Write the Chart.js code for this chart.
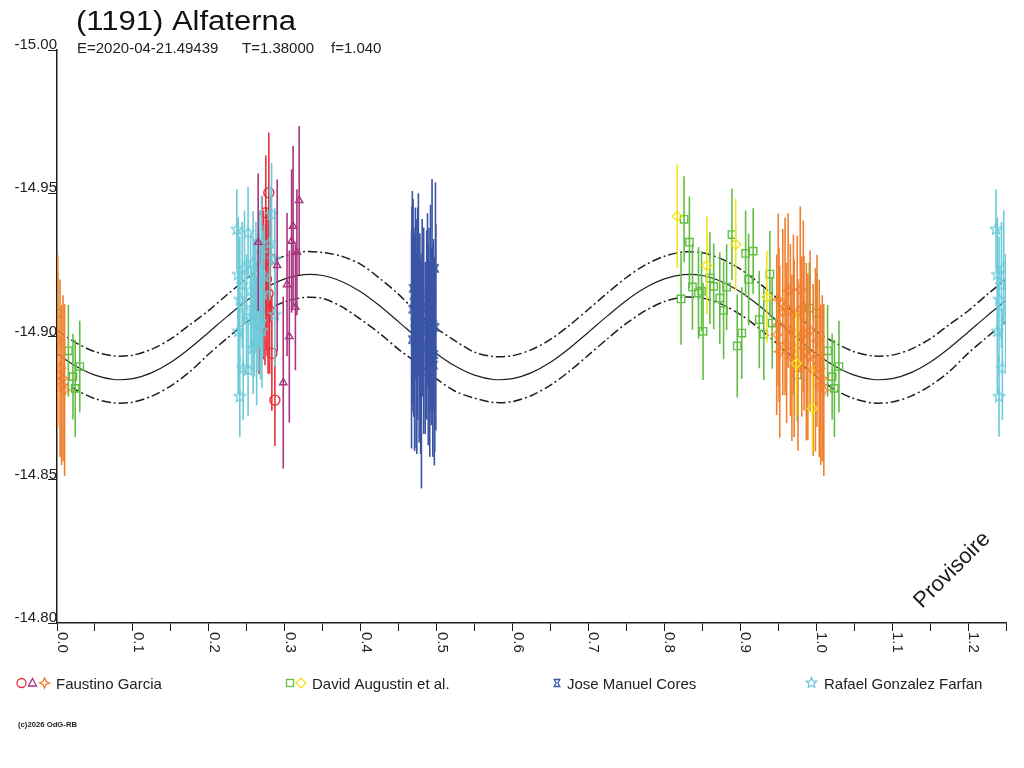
<!DOCTYPE html>
<html><head><meta charset="utf-8">
<script src="https://cdn.jsdelivr.net/npm/chart.js@4.4.1/dist/chart.umd.min.js"></script>
<style>html,body{margin:0;padding:0;background:#fff;}canvas{display:block;}</style>
</head><body>
<canvas id="c" width="1024" height="768" style="width:1024px;height:768px"></canvas>
<script>
// ---------------- DATA ----------------
const titleText = '(1191) Alfaterna';
const epochText = 'E=2020-04-21.49439';
const periodText = 'T=1.38000';
const freqText = 'f=1.040';
const watermarkText = 'Provisoire';
const copyrightText = '(c)2026 OdG-RB';
const observers = ['Faustino Garcia', 'David Augustin et al.', 'Jose Manuel Cores', 'Rafael Gonzalez Farfan'];

const xTickValues = [0.0,0.1,0.2,0.3,0.4,0.5,0.6,0.7,0.8,0.9,1.0,1.1,1.2];
const xTickLabels = ['0.0','0.1','0.2','0.3','0.4','0.5','0.6','0.7','0.8','0.9','1.0','1.1','1.2'];
const yTickValues = [-15.00,-14.95,-14.90,-14.85,-14.80];
const yTickLabels = ['-15.00','-14.95','-14.90','-14.85','-14.80'];

// Fourier fit and its uncertainty band
const fitPhase = [0.000,0.025,0.050,0.075,0.100,0.125,0.150,0.175,0.200,0.225,0.250,0.275,0.300,0.325,0.350,0.375,0.400,0.425,0.450,0.475,0.500,0.525,0.550,0.575,0.600,0.625,0.650,0.675,0.700,0.725,0.750,0.775,0.800,0.825,0.850,0.875,0.900,0.925,0.950,0.975,1.000,1.025,1.050,1.075,1.100,1.125,1.150,1.175,1.200,1.225,1.250];
const fitMag = [-14.8940,-14.8896,-14.8865,-14.8850,-14.8853,-14.8874,-14.8910,-14.8959,-14.9015,-14.9072,-14.9126,-14.9170,-14.9201,-14.9216,-14.9213,-14.9192,-14.9156,-14.9107,-14.9051,-14.8994,-14.8940,-14.8896,-14.8865,-14.8850,-14.8853,-14.8874,-14.8910,-14.8959,-14.9015,-14.9072,-14.9126,-14.9170,-14.9201,-14.9216,-14.9213,-14.9192,-14.9156,-14.9107,-14.9051,-14.8994,-14.8940,-14.8896,-14.8865,-14.8850,-14.8853,-14.8874,-14.8910,-14.8959,-14.9015,-14.9072,-14.9126];
const fitUpper = [-14.9022,-14.8978,-14.8947,-14.8932,-14.8935,-14.8956,-14.8992,-14.9041,-14.9091,-14.9148,-14.9202,-14.9250,-14.9281,-14.9296,-14.9293,-14.9280,-14.9252,-14.9203,-14.9147,-14.9082,-14.9028,-14.8984,-14.8945,-14.8930,-14.8933,-14.8954,-14.8990,-14.9039,-14.9095,-14.9152,-14.9206,-14.9250,-14.9280,-14.9295,-14.9292,-14.9271,-14.9235,-14.9186,-14.9130,-14.9073,-14.9019,-14.8978,-14.8947,-14.8932,-14.8935,-14.8956,-14.8992,-14.9041,-14.9089,-14.9146,-14.9200];
const fitLower = [-14.8858,-14.8814,-14.8783,-14.8768,-14.8771,-14.8792,-14.8828,-14.8877,-14.8939,-14.8996,-14.9050,-14.9090,-14.9121,-14.9136,-14.9133,-14.9104,-14.9060,-14.9011,-14.8955,-14.8906,-14.8852,-14.8808,-14.8785,-14.8770,-14.8773,-14.8794,-14.8830,-14.8879,-14.8935,-14.8992,-14.9046,-14.9090,-14.9122,-14.9137,-14.9134,-14.9113,-14.9077,-14.9028,-14.8972,-14.8915,-14.8861,-14.8814,-14.8783,-14.8768,-14.8771,-14.8792,-14.8828,-14.8877,-14.8941,-14.8998,-14.9052];

// Faustino Garcia - session 1 (circles)
const fgCirPhase = [0.2790,0.2750,0.2830,0.2870,0.2700,0.2720,0.2740,0.2760,0.2780,0.2800,0.2680,0.2810,0.2660];
const fgCirMag   = [-14.9502,-14.9432,-14.8941,-14.8778,-14.9250,-14.9180,-14.9120,-14.9200,-14.9150,-14.9090,-14.9120,-14.9270,-14.9050];
const fgCirErr   = [0.021,0.020,0.020,0.016,0.024,0.026,0.022,0.025,0.028,0.022,0.020,0.022,0.018];
// Faustino Garcia - session 2 (triangles)
const fgTriPhase = [0.3190,0.3110,0.3090,0.3160,0.2900,0.3030,0.3140,0.3060,0.2980,0.2650];
const fgTriMag   = [-14.9475,-14.9385,-14.9333,-14.9294,-14.9248,-14.9181,-14.9102,-14.9000,-14.8839,-14.9329];
const fgTriErr   = [0.026,0.028,0.025,0.022,0.030,0.025,0.022,0.030,0.030,0.024];
// Faustino Garcia - session 3 (4-point stars)
const fgStarPhase = [0.948,0.950,0.951,0.952,0.956,0.959,0.961,0.963,0.966,0.968,0.970,0.971,0.975,0.976,0.979,0.981,0.983,0.984,0.987,0.989,0.992,0.996,0.999,0.001,0.004,0.006,0.008,0.010];
const fgStarMag   = [-14.9006,-14.9129,-14.9041,-14.8947,-14.9085,-14.9105,-14.8977,-14.9160,-14.9023,-14.8925,-14.9076,-14.8959,-14.9082,-14.8901,-14.9164,-14.9000,-14.9105,-14.9012,-14.8947,-14.8930,-14.9020,-14.8883,-14.8919,-14.8985,-14.8889,-14.8831,-14.8854,-14.8813];
const fgStarErr   = [0.028,0.030,0.027,0.030,0.029,0.031,0.028,0.027,0.030,0.029,0.028,0.031,0.027,0.030,0.029,0.028,0.030,0.027,0.031,0.029,0.028,0.030,0.032,0.030,0.031,0.028,0.029,0.030];
// David Augustin et al. - session 1 (squares)
const daSqPhase = [0.822,0.826,0.833,0.837,0.845,0.849,0.851,0.860,0.865,0.873,0.878,0.882,0.889,0.896,0.902,0.907,0.911,0.917,0.925,0.931,0.939,0.942,0.975,0.991,0.001,0.015,0.021,0.024,0.030];
const daSqMag   = [-14.9131,-14.9409,-14.9329,-14.9173,-14.9152,-14.9158,-14.9018,-14.9204,-14.9175,-14.9134,-14.9091,-14.9172,-14.9356,-14.8967,-14.9012,-14.9290,-14.9199,-14.9298,-14.9059,-14.9008,-14.9218,-14.9047,-14.8866,-14.9099,-14.9082,-14.8950,-14.8860,-14.8819,-14.8895];
const daSqErr   = [0.016,0.015,0.016,0.015,0.016,0.014,0.017,0.016,0.015,0.016,0.017,0.015,0.016,0.018,0.016,0.015,0.016,0.015,0.017,0.016,0.015,0.016,0.016,0.016,0.014,0.016,0.015,0.017,0.016];
// David Augustin et al. - session 2 (diamonds)
const daDiaPhase = [0.817,0.856,0.894,0.935,0.974,0.995];
const daDiaMag   = [-14.9420,-14.9248,-14.9321,-14.9138,-14.8906,-14.8749];
const daDiaErr   = [0.018,0.017,0.016,0.016,0.018,0.015];
// Jose Manuel Cores
const jmcPhase = [0.4680,0.4675,0.4670,0.4985,0.4990,0.4975,0.4690,0.4700,0.4710,0.4720,0.4730,0.4740,0.4750,0.4760,0.4770,0.4780,0.4790,0.4800,0.4810,0.4830,0.4850,0.4870,0.4880,0.4890,0.4900,0.4910,0.4920,0.4930,0.4940,0.4950,0.4960,0.4970];
const jmcMag   = [-14.9168,-14.9095,-14.8989,-14.9238,-14.9032,-14.8937,-14.9120,-14.9050,-14.8980,-14.9150,-14.9010,-14.8940,-14.9080,-14.9180,-14.8990,-14.9060,-14.8930,-14.8880,-14.9100,-14.9020,-14.8960,-14.9040,-14.9130,-14.8970,-14.9060,-14.8920,-14.9100,-14.9000,-14.9150,-14.8950,-14.9040,-14.8900];
const jmcErr   = [0.034,0.036,0.038,0.030,0.036,0.034,0.036,0.033,0.038,0.030,0.040,0.035,0.037,0.032,0.036,0.030,0.034,0.041,0.031,0.036,0.030,0.033,0.030,0.035,0.032,0.034,0.036,0.031,0.040,0.037,0.030,0.035];
// Rafael Gonzalez Farfan
const rgfPhase = [0.2369,0.2517,0.2386,0.2583,0.2408,0.2496,0.2562,0.2386,0.2583,0.2452,0.2517,0.2408,0.2826,0.2803,0.2869,0.2694,0.2869,0.2620,0.2650,0.2680,0.2710,0.2730,0.2600,0.2550,0.2630,0.2670,0.2700,0.2440,0.2470];
const rgfMag   = [-14.9374,-14.9362,-14.9216,-14.9257,-14.9129,-14.9088,-14.9059,-14.9018,-14.8959,-14.8889,-14.8883,-14.8790,-14.9426,-14.9327,-14.9269,-14.9292,-14.9076,-14.9180,-14.9120,-14.9050,-14.9150,-14.9210,-14.9100,-14.9160,-14.8980,-14.9200,-14.9020,-14.9180,-14.9240];
const rgfErr   = [0.014,0.016,0.020,0.018,0.022,0.020,0.018,0.022,0.016,0.018,0.016,0.014,0.018,0.020,0.018,0.020,0.018,0.022,0.024,0.020,0.022,0.018,0.024,0.020,0.022,0.024,0.020,0.022,0.020];

// ---------------- STYLE ----------------
const C_RED = '#e8303a', C_MAG = '#a8357f', C_ORA = '#f07f2e', C_GRN = '#62be44',
      C_YEL = '#f4e21a', C_BLU = '#3b55a5', C_CYA = '#6ccad9', C_INK = '#1e1e1e';
const PHASE_MAX = 1.25;

function pathStar4(g, cx, cy, r) {
  const k = r * 0.3;
  g.beginPath();
  g.moveTo(cx, cy - r); g.lineTo(cx + k, cy - k); g.lineTo(cx + r, cy); g.lineTo(cx + k, cy + k);
  g.lineTo(cx, cy + r); g.lineTo(cx - k, cy + k); g.lineTo(cx - r, cy); g.lineTo(cx - k, cy - k);
  g.closePath();
}
function pathStar5(g, cx, cy, r) {
  const ri = r * 0.45;
  g.beginPath();
  for (let i = 0; i < 10; i++) {
    const rr = i % 2 ? ri : r, a = -Math.PI / 2 + i * Math.PI / 5;
    const px = cx + rr * Math.cos(a), py = cy + rr * Math.sin(a);
    if (i) g.lineTo(px, py); else g.moveTo(px, py);
  }
  g.closePath();
}
function pathHour(g, cx, cy, r) {
  g.beginPath();
  g.moveTo(cx - r * 0.8, cy - r); g.lineTo(cx + r * 0.8, cy - r); g.lineTo(cx + r * 0.25, cy);
  g.lineTo(cx + r * 0.8, cy + r); g.lineTo(cx - r * 0.8, cy + r); g.lineTo(cx - r * 0.25, cy);
  g.closePath();
}
function makeMarker(pathFn, r, color) {
  const s = Math.ceil(2 * r + 4);
  const c = document.createElement('canvas'); c.width = s; c.height = s;
  const g = c.getContext('2d');
  g.strokeStyle = color; g.lineWidth = 1.3;
  pathFn(g, s / 2, s / 2, r); g.stroke();
  return c;
}
const mkStar4 = makeMarker(pathStar4, 5.5, C_ORA);
const mkStar5 = makeMarker(pathStar5, 6, C_CYA);
const mkHour = makeMarker(pathHour, 3.5, C_BLU);

function session(label, phases, mags, errs, color, style, radius, order) {
  const data = [], e = [];
  phases.forEach((p, i) => {
    data.push({x: p, y: mags[i]}); e.push(errs[i]);
    if (p + 1 <= PHASE_MAX) { data.push({x: p + 1, y: mags[i]}); e.push(errs[i]); }
  });
  return {label, data, errs: e, borderColor: color, backgroundColor: 'rgba(0,0,0,0)',
    pointStyle: style, pointRadius: radius, pointHoverRadius: radius, pointBorderWidth: 1.4,
    showLine: false, order};
}
function curve(label, mags, dash, width) {
  return {label, data: fitPhase.map((p, i) => ({x: p, y: mags[i]})), showLine: true,
    borderColor: C_INK, borderWidth: width, borderDash: dash, pointRadius: 0, tension: 0.3,
    fill: false, order: 100};
}

const datasets = [
  curve('fit', fitMag, [], 1.2),
  curve('fit+', fitUpper, [9, 3, 2, 3], 1.5),
  curve('fit-', fitLower, [9, 3, 2, 3], 1.5),
  session('DA sq', daSqPhase, daSqMag, daSqErr, C_GRN, 'rect', 5.2, 8),
  session('FG star', fgStarPhase, fgStarMag, fgStarErr, C_ORA, mkStar4, 5, 7),
  session('DA dia', daDiaPhase, daDiaMag, daDiaErr, C_YEL, 'rectRot', 5, 6),
  session('JMC', jmcPhase, jmcMag, jmcErr, C_BLU, mkHour, 4, 5),
  session('FG cir', fgCirPhase, fgCirMag, fgCirErr, C_RED, 'circle', 5, 4),
  session('RGF', rgfPhase, rgfMag, rgfErr, C_CYA, mkStar5, 6, 3),
  session('FG tri', fgTriPhase, fgTriMag, fgTriErr, C_MAG, 'triangle', 4.2, 2)
];

const errPlugin = {
  id: 'errbars',
  beforeDatasetDraw(chart, args) {
    const ds = chart.data.datasets[args.index];
    if (!ds.errs) return;
    const {ctx, chartArea: a, scales: {x, y}} = chart;
    ctx.save();
    ctx.beginPath(); ctx.rect(a.left, a.top, a.right - a.left, a.bottom - a.top); ctx.clip();
    ctx.strokeStyle = ds.borderColor; ctx.lineWidth = 1.6;
    ds.data.forEach((pt, i) => {
      const e = ds.errs[i];
      const px = x.getPixelForValue(pt.x);
      ctx.beginPath();
      ctx.moveTo(px, y.getPixelForValue(pt.y - e));
      ctx.lineTo(px, y.getPixelForValue(pt.y + e));
      ctx.stroke();
    });
    ctx.restore();
  }
};

function fitText(ctx, text, x, y, targetW) {
  const w = ctx.measureText(text).width;
  ctx.save(); ctx.translate(x, y); ctx.scale(targetW / w, 1); ctx.fillText(text, 0, 0); ctx.restore();
}
function legendSymbol(ctx, kind, color, x, y) {
  ctx.save();
  ctx.strokeStyle = color; ctx.lineWidth = 1.3; ctx.fillStyle = 'rgba(0,0,0,0)';
  if (kind === 'circle') { ctx.beginPath(); ctx.arc(x, y, 4.5, 0, Math.PI * 2); ctx.stroke(); }
  else if (kind === 'triangle') { ctx.beginPath(); ctx.moveTo(x, y - 4.5); ctx.lineTo(x + 4, y + 3); ctx.lineTo(x - 4, y + 3); ctx.closePath(); ctx.stroke(); }
  else if (kind === 'star4') { pathStar4(ctx, x, y, 5); ctx.stroke(); }
  else if (kind === 'rect') { ctx.strokeRect(x - 3.5, y - 3.5, 7, 7); }
  else if (kind === 'diamond') { ctx.beginPath(); ctx.moveTo(x, y - 5); ctx.lineTo(x + 5, y); ctx.lineTo(x, y + 5); ctx.lineTo(x - 5, y); ctx.closePath(); ctx.stroke(); }
  else if (kind === 'hour') { pathHour(ctx, x, y, 3.5); ctx.stroke(); }
  else if (kind === 'star5') { pathStar5(ctx, x, y, 5.5); ctx.stroke(); }
  ctx.restore();
}

const decorPlugin = {
  id: 'decor',
  beforeDraw(chart) {
    const ctx = chart.ctx;
    ctx.save(); ctx.fillStyle = '#fff'; ctx.fillRect(0, 0, chart.width, chart.height); ctx.restore();
  },
  afterDraw(chart) {
    const {ctx, scales: {x, y}} = chart;
    ctx.save();
    ctx.fillStyle = '#111';
    ctx.textAlign = 'left'; ctx.textBaseline = 'alphabetic';
    // title
    ctx.font = '27px "Liberation Sans", Arial, sans-serif';
    fitText(ctx, titleText, 76, 30, 220);
    // subtitle
    ctx.fillStyle = '#222';
    ctx.font = '15px "Liberation Sans", Arial, sans-serif';
    ctx.fillText(epochText, 77, 53);
    ctx.fillText(periodText, 242, 53);
    ctx.fillText(freqText, 331, 53);
    // y tick labels
    ctx.textAlign = 'right';
    yTickValues.forEach((v, i) => ctx.fillText(yTickLabels[i], 57, y.getPixelForValue(v) - 1));
    // x tick labels (rotated clockwise)
    ctx.textAlign = 'left';
    xTickValues.forEach((v, i) => {
      ctx.save();
      ctx.translate(x.getPixelForValue(v) + 1, 632);
      ctx.rotate(Math.PI / 2);
      ctx.fillText(xTickLabels[i], 0, 0);
      ctx.restore();
    });
    // watermark
    ctx.save();
    ctx.font = '22px "Liberation Sans", Arial, sans-serif';
    ctx.fillStyle = '#1a1a1a';
    ctx.translate(922, 609); ctx.rotate(-Math.PI / 4);
    ctx.fillText(watermarkText, 0, 0);
    ctx.restore();
    // legend
    const ly = 683;
    legendSymbol(ctx, 'circle', C_RED, 21.5, ly);
    legendSymbol(ctx, 'triangle', C_MAG, 32.5, ly);
    legendSymbol(ctx, 'star4', C_ORA, 44.5, ly);
    legendSymbol(ctx, 'rect', C_GRN, 290, ly);
    legendSymbol(ctx, 'diamond', C_YEL, 301, ly);
    legendSymbol(ctx, 'hour', C_BLU, 557, ly);
    legendSymbol(ctx, 'star5', C_CYA, 811.5, ly);
    ctx.fillStyle = '#222';
    ctx.font = '15px "Liberation Sans", Arial, sans-serif';
    const lx = [56, 312, 567, 824];
    observers.forEach((n, i) => ctx.fillText(n, lx[i], ly + 5.5));
    // copyright
    ctx.font = 'bold 7px "Liberation Sans", Arial, sans-serif';
    fitText(ctx, copyrightText, 18, 727, 59);
    ctx.restore();
  }
};

new Chart(document.getElementById('c'), {
  type: 'scatter',
  data: {datasets},
  options: {
    responsive: false, animation: false, devicePixelRatio: 1,
    layout: {padding: {top: 50, right: 18, left: 0, bottom: 0}},
    plugins: {legend: {display: false}, tooltip: {enabled: false}, title: {display: false}},
    events: [],
    scales: {
      x: {
        type: 'linear', min: 0, max: PHASE_MAX,
        afterFit: s => { s.height = 145; },
        ticks: {display: false, stepSize: 0.05, autoSkip: false, maxTicksLimit: 100},
        grid: {display: true, drawOnChartArea: false, drawTicks: true, tickLength: 8, color: C_INK, lineWidth: 1},
        border: {display: true, color: C_INK, width: 1.5}
      },
      y: {
        type: 'linear', min: -15.0, max: -14.8, reverse: true,
        afterFit: s => { s.width = 57; },
        ticks: {display: false, stepSize: 0.05, autoSkip: false, maxTicksLimit: 100},
        grid: {display: true, drawOnChartArea: false, drawTicks: true, tickLength: 9, color: C_INK, lineWidth: 1},
        border: {display: true, color: C_INK, width: 1.5}
      }
    }
  },
  plugins: [errPlugin, decorPlugin]
});
</script>
</body></html>
